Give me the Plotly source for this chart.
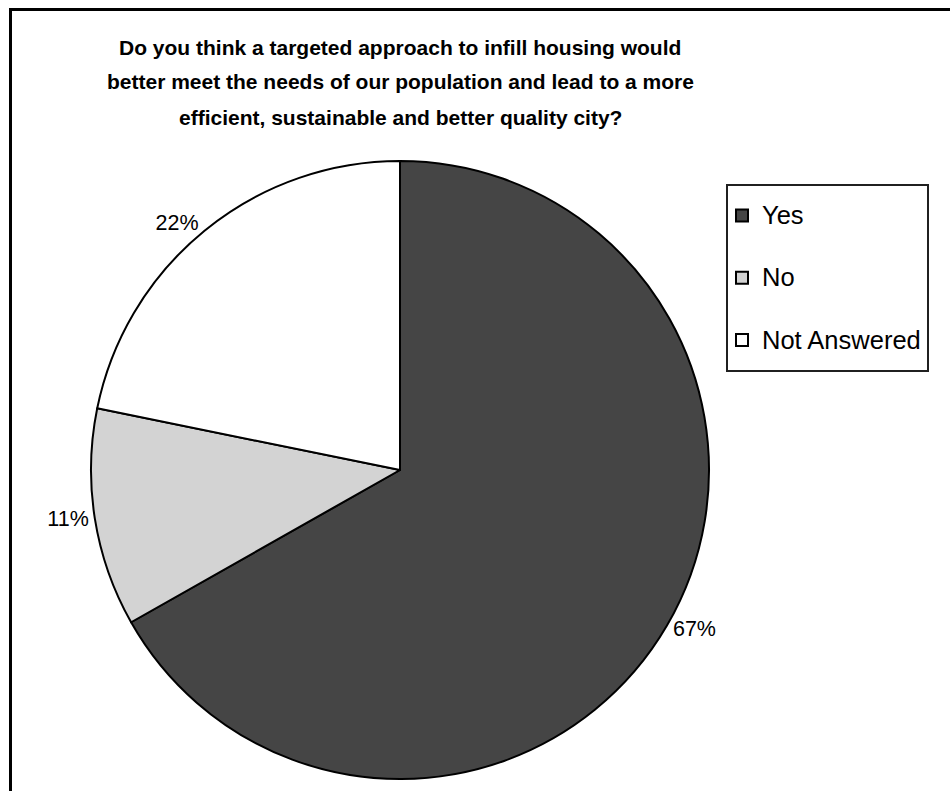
import plotly.graph_objects as go

# ---- data ----
categories = ["Yes", "No", "Not Answered"]
values = [66.8, 11.4, 21.8]
title_lines = [
    "Do you think a targeted approach to infill housing would",
    "better meet the needs of our population and lead to a more",
    "efficient, sustainable and better quality city?",
]

# ---- styles ----
slice_colors = ["#454545", "#d3d3d3", "#ffffff"]
FONT = "Arial, Liberation Sans, sans-serif"
W, H = 950, 791

# legend entries: same text, with a smaller visible size so rows spread like the original
legend_labels = [
    '<span style="font-size:25.5px;baseline-shift:9px">' + c + "</span>" for c in categories
]

fig = go.Figure()
fig.add_trace(go.Pie(
    labels=legend_labels,
    values=values,
    customdata=categories,
    sort=False,
    direction="clockwise",
    rotation=0,
    marker=dict(colors=slice_colors, line=dict(color="#000000", width=2)),
    texttemplate="%{percent:.0%}",
    hovertemplate="%{customdata}: %{percent:.0%}<extra></extra>",
    textposition="outside",
    textfont=dict(family=FONT, size=21.5, color="#000000"),
    domain=dict(x=[91 / W, 709 / W], y=[1 - 779 / H, 1 - 161 / H]),
))

# title, one annotation per line to match the line spacing
for line, yc in zip(title_lines, [47, 82, 118]):
    fig.add_annotation(
        text="<b>" + line + "</b>", x=400 / W, y=1 - yc / H,
        xref="paper", yref="paper", xanchor="center", yanchor="middle",
        showarrow=False, font=dict(family=FONT, size=21, color="#000000"),
    )

# outer chart border (right and bottom edges lie outside the canvas)
fig.add_shape(type="rect", xref="paper", yref="paper",
              x0=10.5 / W, x1=1.05, y0=-0.05, y1=1 - 9.5 / H,
              line=dict(color="#000000", width=3), fillcolor="rgba(0,0,0,0)", layer="above")
# legend box
fig.add_shape(type="rect", xref="paper", yref="paper",
              x0=727 / W, x1=928 / W, y0=1 - 371 / H, y1=1 - 185 / H,
              line=dict(color="#202020", width=2), fillcolor="rgba(0,0,0,0)", layer="above")

fig.update_layout(
    width=W, height=H,
    margin=dict(l=0, r=0, t=0, b=0),
    paper_bgcolor="#ffffff", plot_bgcolor="#ffffff",
    showlegend=True,
    legend=dict(
        x=722 / W, y=1 - 278 / H, xanchor="left", yanchor="middle",
        font=dict(family=FONT, size=45.5, color="#000000"),
        bgcolor="rgba(0,0,0,0)", borderwidth=0,
    ),
)

fig.write_html("out.html")
